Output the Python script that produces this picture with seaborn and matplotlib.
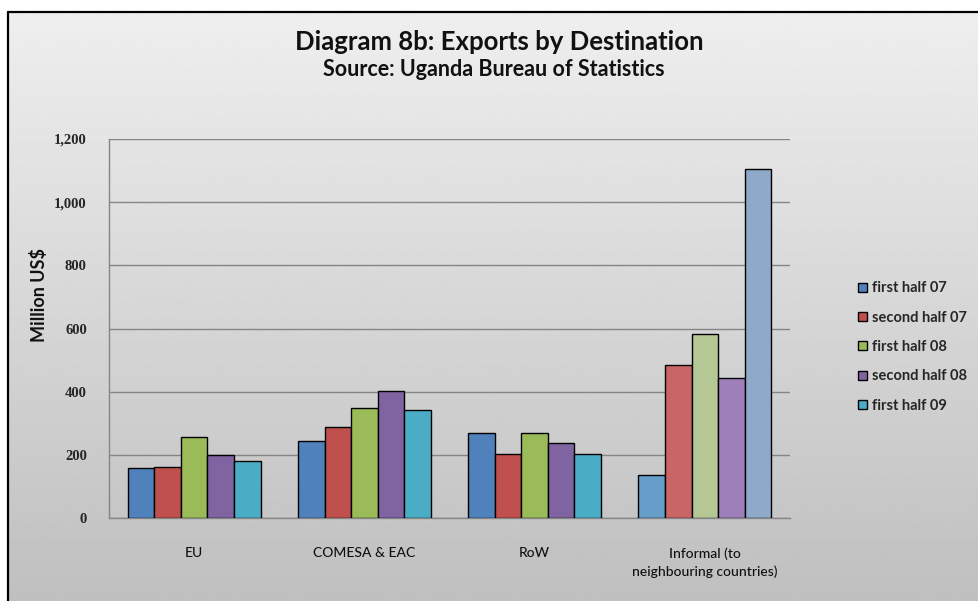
import numpy as np
import pandas as pd
import matplotlib
matplotlib.use("Agg")
import matplotlib.pyplot as plt
from matplotlib.lines import Line2D
from matplotlib.ticker import FuncFormatter
import seaborn as sns

destinations = ["EU", "COMESA & EAC", "RoW", "Informal (to\nneighbouring countries)"]
periods = ["first half 07", "second half 07", "first half 08", "second half 08", "first half 09"]
first_half_07 = [157, 243, 270, 136]
second_half_07 = [160, 287, 202, 483]
first_half_08 = [256, 347, 270, 583]
second_half_08 = [199, 401, 237, 442]
first_half_09 = [180, 341, 202, 1104]
y_ticks = [0, 200, 400, 600, 800, 1000, 1200]

colors = ["#4f81bd", "#c0504d", "#9bbb59", "#8064a2", "#4bacc6"]
informal_colors = ["#659fc9", "#c96565", "#b5c795", "#9e7fba", "#8ea9c9"]

series = [first_half_07, second_half_07, first_half_08, second_half_08, first_half_09]
rows = []
for p, vals in zip(periods, series):
    for d, v in zip(destinations, vals):
        rows.append({"dest": d, "period": p, "value": v})
df = pd.DataFrame(rows)

sns.set_theme(style="white")
plt.rcParams["font.family"] = ["Lato", "DejaVu Sans"]

W, H = 979, 601
fig = plt.figure(figsize=(W / 100, H / 100), dpi=100)
fig.patch.set_facecolor("white")

# gradient background inside the frame
bg = fig.add_axes([8 / W, 0, 1 - 8 / W, (H - 12) / H], zorder=0)
grad = np.linspace(0.935, 0.75, 256).reshape(-1, 1)
bg.imshow(grad, cmap="gray", vmin=0, vmax=1, aspect="auto", extent=[0, 1, 0, 1])
bg.set_axis_off()
fig.add_artist(Line2D([8 / W, 8 / W], [0, (H - 12) / H], transform=fig.transFigure, color="black", lw=1.6, zorder=5))
fig.add_artist(Line2D([8 / W, 1], [(H - 12) / H, (H - 12) / H], transform=fig.transFigure, color="black", lw=1.6, zorder=5))

ax = fig.add_axes([109 / W, (H - 518) / H, (790 - 109) / W, (518 - 139) / H], zorder=2)
ax.patch.set_alpha(0)

sns.barplot(data=df, x="dest", y="value", hue="period", palette=colors, width=0.78,
            edgecolor="black", linewidth=1.0, saturation=1, ax=ax, zorder=3)

for j, cont in enumerate(ax.containers):
    cont.patches[3].set_facecolor(informal_colors[j])

ax.set_ylim(0, 1200)
ax.set_xlim(-0.5, 3.5)
ax.set_yticks(y_ticks)
ax.yaxis.set_major_formatter(FuncFormatter(lambda v, p: f"{int(v):,}"))
ax.grid(axis="y", color="#858585", lw=1.0, zorder=1)
ax.set_axisbelow(True)
for s in ["top", "right"]:
    ax.spines[s].set_visible(False)
for s in ["left", "bottom"]:
    ax.spines[s].set_color("#858585")
    ax.spines[s].set_linewidth(1.0)

ax.set_xticks([0, 1, 2, 3])
ax.set_xticklabels(destinations, fontsize=10, color="#111111")
ax.set_xticks([-0.5, 0.5, 1.5, 2.5, 3.5], minor=True)
ax.tick_params(axis="x", which="major", length=0, pad=21)
ax.tick_params(axis="x", which="minor", length=4, color="#858585", width=1)
ax.tick_params(axis="y", length=5, color="#858585", width=1, pad=11, labelsize=10.5)
for t in ax.get_yticklabels():
    t.set_fontweight("bold")
    t.set_family(["Liberation Serif", "DejaVu Serif"])
for t in ax.get_xticklabels():
    t.set_linespacing(1.5)
    t.set_fontweight("medium")

ax.set_xlabel("")
ax.set_ylabel("")
fig.text(39 / W, 1 - 295 / H, "Million US$", rotation=90, ha="center", va="center",
         fontsize=13, fontweight="bold", color="#111111")

fig.text(499 / W, 1 - 42 / H, "Diagram 8b: Exports by Destination", ha="center", va="center",
         fontsize=18.5, fontweight="bold", color="#111111")
fig.text(494 / W, 1 - 70 / H, "Source: Uganda Bureau of Statistics", ha="center", va="center",
         fontsize=15.5, fontweight="bold", color="#111111")

handles, labels = ax.get_legend_handles_labels()
ax.legend(handles, labels, loc="center left", bbox_to_anchor=(858 / W, 1 - 347 / H),
          bbox_transform=fig.transFigure, frameon=False, handlelength=0.6,
          handleheight=0.6, handletextpad=0.35, labelspacing=1.05, borderpad=0, borderaxespad=0,
          prop={"weight": "bold", "size": 10.5})

fig.savefig("out.png", dpi=100)
